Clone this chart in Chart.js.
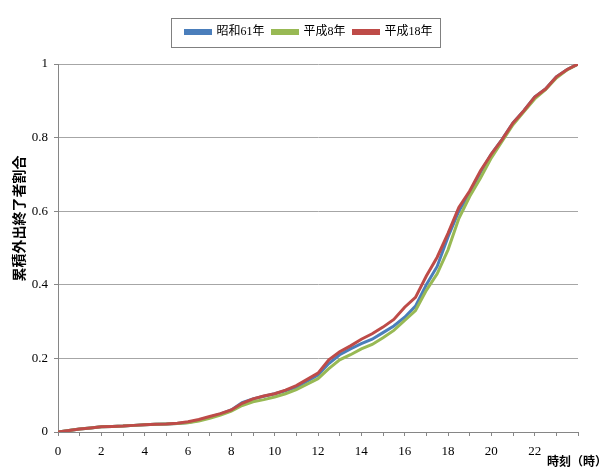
<!DOCTYPE html>
<html>
<head>
<meta charset="utf-8">
<script src="https://cdn.jsdelivr.net/npm/chart.js@4.4.1/dist/chart.umd.min.js"></script>
<style>
  html, body { margin: 0; padding: 0; background: #fff; }
  #wrap { width: 599px; height: 467px; position: relative; }
</style>
</head>
<body>
<div id="wrap"><canvas id="chart" width="599" height="467"></canvas></div>
<script>
// hours (every 30 min)
const hours = [0,0.5,1,1.5,2,2.5,3,3.5,4,4.5,5,5.5,6,6.5,7,7.5,8,8.5,9,9.5,10,10.5,11,11.5,12,
  12.5,13,13.5,14,14.5,15,15.5,16,16.5,17,17.5,18,18.5,19,19.5,20,20.5,21,21.5,22,22.5,23,23.5,24];

// 昭和61年
const showa61 = [0,0.004,0.008,0.011,0.014,0.015,0.016,0.018,0.020,0.021,0.022,0.023,0.026,0.032,0.040,0.049,0.060,0.080,0.090,0.097,0.104,0.112,0.122,0.138,0.155,
  0.186,0.210,0.226,0.240,0.252,0.270,0.288,0.312,0.342,0.400,0.450,0.530,0.600,0.650,0.705,0.755,0.795,0.840,0.873,0.910,0.932,0.965,0.985,1.0];
// 平成8年
const heisei8 = [0,0.004,0.008,0.011,0.014,0.015,0.016,0.018,0.020,0.021,0.022,0.023,0.025,0.030,0.037,0.046,0.057,0.072,0.082,0.088,0.095,0.104,0.115,0.130,0.145,
  0.172,0.196,0.210,0.226,0.238,0.256,0.276,0.303,0.330,0.385,0.430,0.495,0.580,0.640,0.690,0.745,0.790,0.835,0.870,0.905,0.930,0.962,0.984,1.0];
// 平成18年
const heisei18 = [0,0.004,0.008,0.011,0.014,0.015,0.016,0.018,0.020,0.021,0.022,0.024,0.028,0.034,0.042,0.050,0.060,0.078,0.090,0.098,0.104,0.114,0.126,0.143,0.160,
  0.196,0.218,0.234,0.252,0.267,0.285,0.306,0.339,0.366,0.424,0.475,0.540,0.610,0.655,0.710,0.755,0.795,0.840,0.873,0.910,0.932,0.965,0.985,1.0];

const seriesNames = ['昭和61年', '平成8年', '平成18年'];
const seriesColors = ['#4a7ebb', '#98b954', '#be4b48'];
const yTitle = '累積外出終了者割合';
const xTitle = '時刻（時）';

const serif = "'Liberation Serif', 'Noto Sans CJK JP', serif";

function toPoints(vals) {
  return vals.map((v, i) => ({ x: hours[i], y: v }));
}

// legend spacing + border around the legend + axis titles
const extras = {
  id: 'extras',
  afterInit(chart) {
    const legend = chart.legend;
    const fit = legend.fit.bind(legend);
    legend.fit = function () { fit(); this.height += 16; };
  },
  afterLayout(chart) {
    // legend sits a bit right of centre in the original
    chart.legend.left += 20;
    chart.legend.right += 20;
  },
  afterDraw(chart) {
    const c = chart.ctx;
    const boxes = chart.legend.legendHitBoxes;
    if (boxes && boxes.length) {
      let l = Infinity, r = -Infinity, t = Infinity, b = -Infinity;
      boxes.forEach(h => {
        l = Math.min(l, h.left); r = Math.max(r, h.left + h.width);
        t = Math.min(t, h.top); b = Math.max(b, h.top + h.height);
      });
      c.save();
      c.strokeStyle = '#808080';
      c.lineWidth = 1;
      c.strokeRect(Math.round(l - 14) + 0.5, Math.round(t - 8) + 0.5, Math.round(r - l + 22), Math.round(b - t + 17));
      c.restore();
    }
    const area = chart.chartArea;
    c.save();
    c.fillStyle = '#000';
    c.font = "bold 14px 'Noto Sans CJK JP', sans-serif";
    c.textAlign = 'center';
    c.textBaseline = 'middle';
    c.translate(19, area.top + (area.bottom - area.top) * 0.42);
    c.rotate(-Math.PI / 2);
    c.fillText(yTitle, 0, 0);
    c.restore();

    c.save();
    c.fillStyle = '#000';
    c.font = "bold 12px 'Noto Sans CJK JP', sans-serif";
    c.textAlign = 'left';
    c.textBaseline = 'middle';
    c.fillText(xTitle, area.right - 31, area.bottom + 29);
    c.restore();
  }
};

const ctx = document.getElementById('chart').getContext('2d');
const chart = new Chart(ctx, {
  type: 'line',
  data: {
    datasets: seriesNames.map((name, i) => ({
      label: name,
      data: toPoints([showa61, heisei8, heisei18][i]),
      borderColor: seriesColors[i],
      backgroundColor: seriesColors[i],
      borderWidth: 3,
      pointRadius: 0,
      tension: 0,
      order: 3 - i
    }))
  },
  options: {
    responsive: false,
    animation: false,
    layout: { padding: { left: 0, right: 21, top: 18, bottom: 0 } },
    plugins: {
      legend: {
        position: 'top',
        labels: {
          boxWidth: 25,
          boxHeight: 3,
          padding: 8,
          color: '#000',
          font: { family: serif, size: 12 },
          sort: (a, b) => a.datasetIndex - b.datasetIndex
        }
      },
      tooltip: { enabled: false }
    },
    scales: {
      x: {
        type: 'linear',
        min: 0,
        max: 24,
        afterFit: s => { s.height = 35; },
        border: { color: '#868686', width: 1 },
        grid: { drawOnChartArea: false, drawTicks: true, tickLength: 4, color: '#868686' },
        ticks: {
          stepSize: 1,
          autoSkip: false,
          maxRotation: 0,
          padding: 8,
          color: '#000',
          font: { family: serif, size: 13 },
          callback: v => (v % 2 === 0 && v < 24) ? String(v) : ''
        }
      },
      y: {
        min: 0,
        max: 1,
        afterFit: s => { s.width = 58; },
        border: { color: '#868686', width: 1 },
        grid: { color: '#a6a6a6', tickLength: 4, tickColor: '#868686' },
        ticks: {
          stepSize: 0.2,
          padding: 6,
          color: '#000',
          font: { family: serif, size: 13 },
          callback: v => String(Math.round(v * 10) / 10)
        }
      }
    }
  },
  plugins: [extras]
});
</script>
</body>
</html>
